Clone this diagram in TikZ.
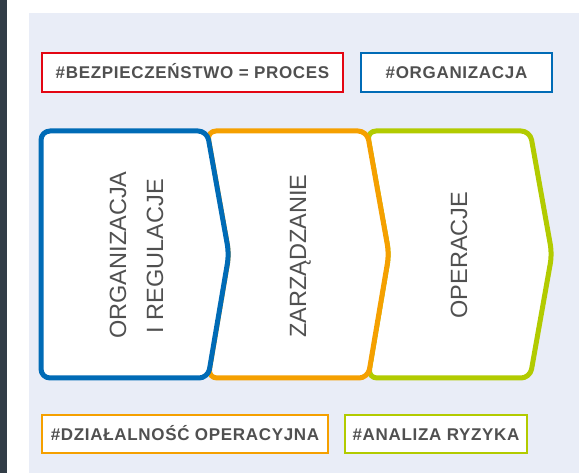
\documentclass[tikz,border=0pt]{standalone}
\usepackage{fontspec}
\setmainfont{Liberation Sans}
\newfontfamily\tagfont[LetterSpace=4]{Liberation Sans}
\definecolor{bgc}{HTML}{E9EDF7}
\definecolor{darkstrip}{HTML}{323D47}
\definecolor{cred}{HTML}{E30613}
\definecolor{cblue}{HTML}{006BB6}
\definecolor{corange}{HTML}{F5A000}
\definecolor{cgreen}{HTML}{B2CB00}
\definecolor{txt}{HTML}{505050}
\tikzset{
  chev/.style={fill=white, line width=5pt, rounded corners=9pt, line join=round},
  chevtext/.style={text=txt, font=\fontsize{23.5}{28}\selectfont, rotate=90, anchor=base, inner sep=0pt},
  tagbox/.style={draw, fill=white, line width=2pt, text=txt, inner sep=0pt,
    font=\tagfont\bfseries\fontsize{17}{20}\selectfont, text height=12pt, text depth=0pt}
}
\begin{document}
\begin{tikzpicture}[x=1pt,y=-1pt]
\useasboundingbox (0,0) rectangle (579,473);
\fill[white] (0,0) rectangle (579,473);
\fill[darkstrip] (0,0) rectangle (7,473);
\fill[bgc] (29,13) rectangle (579,473);
% chevrons (green bottom, blue top)
\draw[chev, draw=cgreen] (367,131) -- (530,131) -- (552,254) -- (530,378) -- (368,378) -- (389,254) -- cycle;
\draw[chev, draw=corange] (207,131) -- (367,131) -- (389,254) -- (368,378) -- (208,378) -- (229,254) -- cycle;
\draw[chev, draw=cblue] (41,131) -- (207,131) -- (229,254) -- (208,378) -- (41,378) -- cycle;
% chevron texts
\node[chevtext] (org) at (126,255) {ORGANIZACJA};
\node[chevtext] (reg) at (163,256) {I REGULACJE};
\node[chevtext] (zarz) at (306,256) {ZARZĄDZANIE};
\node[chevtext] (oper) at (467,255) {OPERACJE};
% tag boxes
\node[tagbox, draw=cred, minimum width=301pt, minimum height=39pt] (t1) at (192.5,72.5) {\#BEZPIECZEŃSTWO = PROCES};
\node[tagbox, draw=cblue, minimum width=191pt, minimum height=39pt] (t2) at (456.5,72.5) {\#ORGANIZACJA};
\node[tagbox, draw=corange, minimum width=286pt, minimum height=38pt] (t3) at (185,434) {\#DZIAŁALNOŚĆ OPERACYJNA};
\node[tagbox, draw=cgreen, minimum width=182pt, minimum height=38pt] (t4) at (436,434) {\#ANALIZA RYZYKA};
\end{tikzpicture}
\end{document}
